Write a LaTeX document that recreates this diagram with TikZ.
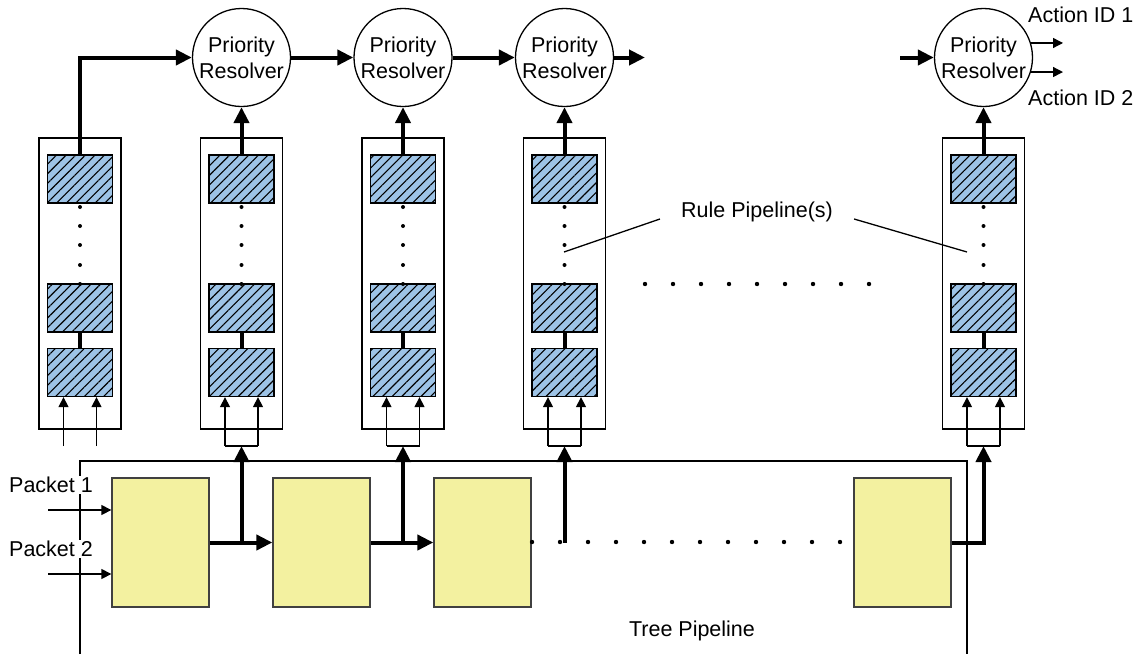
\documentclass[tikz,border=0pt]{standalone}
\usepackage{fontspec}
\setmainfont{Liberation Sans}
\usetikzlibrary{arrows.meta,patterns.meta}
\definecolor{stageblue}{RGB}{157,195,230}
\definecolor{treeyellow}{RGB}{243,241,160}
\begin{document}
\begin{tikzpicture}[x=1pt,y=-1pt,
  every node/.style={font=\fontsize{21.5}{26}\selectfont,inner sep=2pt},
  thinline/.style={line width=1.3pt},
  bus/.style={line width=4pt},
  tip/.style={-{Triangle[length=10pt,width=10pt]}},
  bigtip/.style={-{Triangle[length=16pt,width=15pt]}},
  resolver/.style={draw,circle,thinline,minimum size=98pt,inner sep=0pt,align=center},
  rulebox/.style={draw,thinline,minimum width=82pt,minimum height=291pt,inner sep=0pt},
  stage/.style={draw,thinline,fill=stageblue,
    postaction={pattern={Lines[angle=45,distance=6.8pt,line width=1.1pt]}},
    minimum width=65pt,minimum height=48pt,inner sep=0pt},
  treebox/.style={draw=black!75,thinline,fill=treeyellow,minimum width=97pt,minimum height=129pt,inner sep=0pt}]
\useasboundingbox (0,0) rectangle (1135,654);

% tree pipeline frame
\draw[thinline] (80,654) -- (80,461) -- (967,461) -- (967,654);

% rule pipelines
\foreach \c/\x in {1/80,2/241.5,3/403,4/564.5,5/983.5} {
  \node[rulebox] (p\c) at (\x,283.5) {};
  \node[stage] (top\c) at (\x,179) {};
  \node[stage] (mid\c) at (\x,308) {};
  \node[stage] (bot\c) at (\x,372.5) {};
  \draw[bus] (mid\c) -- (bot\c);
  \foreach \y in {207,226,245,265,284}
    \fill (\x,\y) circle [radius=2pt];
  \coordinate (f\c) at (\x,446);
  \draw[thinline,tip] ([xshift=-16.5pt]f\c) -- ([xshift=-16.5pt]bot\c.south);
  \draw[thinline,tip] ([xshift=16.5pt]f\c) -- ([xshift=16.5pt]bot\c.south);
}
\foreach \c in {2,...,5}
  \draw[thinline] ([xshift=-16.5pt]f\c) -- ([xshift=16.5pt]f\c);

% priority resolvers
\node[resolver] (r2) at (241.5,57.5) {Priority\\Resolver};
\node[resolver] (r3) at (403,57.5) {Priority\\Resolver};
\node[resolver] (r4) at (564.5,57.5) {Priority\\Resolver};
\node[resolver] (r5) at (983.5,57.5) {Priority\\Resolver};
\coordinate (out4) at (645,57.5);
\coordinate (in5) at (900,57.5);
\coordinate (act) at (1063,0);

\draw[bus,bigtip] (top1.north) |- (r2.west);
\foreach \c in {2,...,5}
  \draw[bus,bigtip] (top\c) -- (r\c);
\draw[bus,bigtip] (r2) -- (r3);
\draw[bus,bigtip] (r3) -- (r4);
\draw[bus,bigtip] (r4) -- (out4);
\draw[bus,bigtip] (in5) -- (r5);
\draw[thinline,tip] (r5.17) -- (r5.17 -| act);
\draw[thinline,tip] (r5.-17) -- (r5.-17 -| act);
\node[anchor=west] (a1) at (1026,15) {Action ID 1};
\node[anchor=west] (a2) at (1026,98) {Action ID 2};

% tree stages
\node[treebox] (t1) at (160.5,542.5) {};
\node[treebox] (t2) at (321.5,542.5) {};
\node[treebox] (t3) at (482.5,542.5) {};
\node[treebox] (t4) at (902.5,542.5) {};
\draw[bus,bigtip] (t1) -- (t2);
\draw[bus,bigtip] (t2) -- (t3);
\draw[bus,bigtip] (f2 |- t1.east) -- (f2);
\draw[bus,bigtip] (f3 |- t2.east) -- (f3);
\draw[bus,bigtip] (f4 |- t3.east) -- (f4);
\draw[bus,bigtip] (t4.east) -| (f5);
\foreach \k in {0,...,11}
  \fill (532+28*\k,542) circle [radius=2.2pt];
\foreach \k in {0,...,8}
  \fill (645+28*\k,284) circle [radius=2.2pt];

% packets
\node[fill=white,inner sep=1pt] (pk1) at (51,485) {Packet 1};
\node[fill=white,inner sep=1pt] (pk2) at (51,549) {Packet 2};
\coordinate (in1) at (48,510);
\coordinate (in2) at (48,574);
\draw[thinline,tip] (in1) -- (in1 -| t1.west);
\draw[thinline,tip] (in2) -- (in2 -| t1.west);

% labels
\node (rp) at (757,212) {Rule Pipeline(s)};
\coordinate (lead4) at (564,252);
\coordinate (lead5) at (967,252);
\draw[thinline] ([shift={(-19pt,-7pt)}]rp.west) -- (lead4);
\draw[thinline] ([shift={(19pt,-7pt)}]rp.east) -- (lead5);
\node (tp) at (692,631) {Tree Pipeline};
\end{tikzpicture}
\end{document}
